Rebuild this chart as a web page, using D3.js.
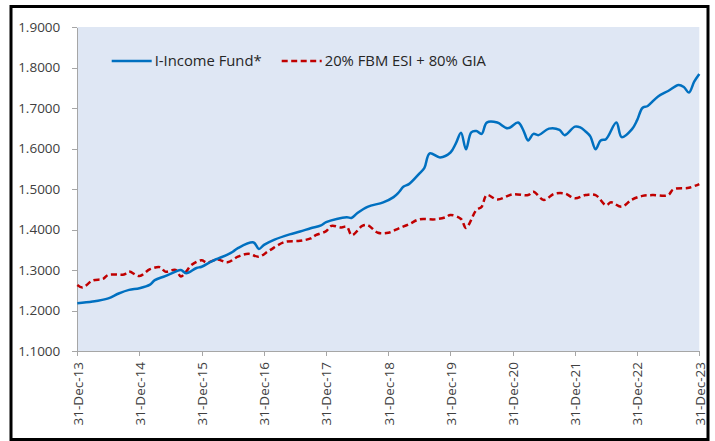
<!doctype html>
<html lang="en">
<head>
  <meta charset="utf-8">
  <title>I-Income Fund vs benchmark</title>
  <style>
body {
  margin: 0;
  background: #fff;
}
.axis {
  font: 13.5px "Open Sans", sans-serif;
}
.axis text {
  fill: #404040;
}
.axis path,
.axis line {
  fill: none;
  stroke: #a6a6a6;
  shape-rendering: crispEdges;
}
.legend text {
  font: 14.8px "Open Sans", sans-serif;
  fill: #262626;
}
  </style>
</head>
<body>
  <script src="https://d3js.org/d3.v7.min.js"></script>
  <script>
// values, month ends
var fundDates = ["2013-12","2014-03","2014-06","2014-08","2014-10","2014-12","2015-02","2015-03",
  "2015-05","2015-07","2015-08","2015-09","2015-11","2015-12","2016-02","2016-05","2016-06","2016-07",
  "2016-10","2016-11","2016-12","2017-02","2017-05","2017-07","2017-09","2017-11","2017-12","2018-02",
  "2018-04","2018-05","2018-06","2018-08","2018-11","2019-01","2019-02","2019-03","2019-04","2019-06",
  "2019-07","2019-08","2019-10","2019-12","2020-01","2020-02","2020-03","2020-04","2020-05","2020-06",
  "2020-07","2020-09","2020-11","2021-01","2021-02","2021-03","2021-04","2021-05","2021-07","2021-09",
  "2021-10","2021-12","2022-01","2022-02","2022-03","2022-04","2022-05","2022-06","2022-08","2022-09",
  "2022-11","2022-12","2023-01","2023-02","2023-04","2023-06","2023-08","2023-09","2023-10","2023-11",
  "2023-12"];
var fundValues = [1.218,1.222,1.230,1.242,1.251,1.255,1.264,1.275,
  1.285,1.296,1.300,1.292,1.305,1.308,1.322,1.338,1.345,1.354,
  1.368,1.352,1.362,1.375,1.388,1.395,1.403,1.410,1.418,1.426,
  1.430,1.429,1.440,1.456,1.467,1.480,1.492,1.506,1.512,1.538,
  1.552,1.588,1.578,1.590,1.612,1.639,1.598,1.640,1.643,1.636,
  1.664,1.664,1.650,1.664,1.645,1.620,1.636,1.633,1.649,1.646,
  1.633,1.654,1.652,1.642,1.630,1.598,1.620,1.623,1.664,1.628,
  1.648,1.670,1.700,1.705,1.728,1.742,1.757,1.752,1.738,1.765,
  1.784];

var benchDates = ["2013-12","2014-01","2014-03","2014-05","2014-06","2014-09","2014-10","2014-12",
  "2015-02","2015-04","2015-05","2015-07","2015-08","2015-09","2015-10","2015-12","2016-01","2016-03",
  "2016-05","2016-07","2016-09","2016-11","2017-01","2017-04","2017-07","2017-09","2017-10","2017-12",
  "2018-01","2018-03","2018-04","2018-05","2018-07","2018-08","2018-10","2018-12","2019-02","2019-04",
  "2019-06","2019-09","2019-11","2019-12","2020-02","2020-03","2020-05","2020-06","2020-07","2020-09",
  "2020-12","2021-03","2021-04","2021-06","2021-08","2021-10","2021-12","2022-02","2022-04","2022-06",
  "2022-07","2022-09","2022-11","2023-01","2023-03","2023-06","2023-07","2023-10","2023-12"];
var benchValues = [1.263,1.257,1.274,1.278,1.288,1.289,1.296,1.285,
  1.302,1.307,1.296,1.300,1.284,1.296,1.312,1.324,1.318,1.326,
  1.319,1.333,1.340,1.333,1.348,1.369,1.372,1.378,1.386,1.396,
  1.409,1.405,1.407,1.386,1.409,1.411,1.392,1.392,1.403,1.413,
  1.425,1.425,1.430,1.436,1.426,1.404,1.448,1.456,1.485,1.474,
  1.487,1.485,1.493,1.473,1.488,1.489,1.477,1.485,1.485,1.460,
  1.467,1.456,1.474,1.483,1.485,1.485,1.499,1.503,1.512];

var seriesNames = ["I-Income Fund*", "20% FBM ESI + 80% GIA"];
var yTicks = [1.1, 1.2, 1.3, 1.4, 1.5, 1.6, 1.7, 1.8, 1.9];
var xTickDates = ["2013-12","2014-12","2015-12","2016-12","2017-12","2018-12",
  "2019-12","2020-12","2021-12","2022-12","2023-12"];

var W = 715, H = 441;
var margin = {top: 27, right: 15.7, bottom: 90, left: 77.3},
    width = W - margin.left - margin.right,
    height = H - margin.top - margin.bottom;

var parse = d3.timeParse("%Y-%m");
var fmtTick = d3.timeFormat("%b-%y");

var fund = fundDates.map(function(d, i) { return {date: parse(d), value: fundValues[i]}; });
var bench = benchDates.map(function(d, i) { return {date: parse(d), value: benchValues[i]}; });

var x = d3.scaleTime()
    .domain([parse("2013-12"), parse("2023-12")])
    .range([0, width]);
var y = d3.scaleLinear()
    .domain([1.1, 1.9])
    .range([height, 0]);

var svg = d3.select("body").append("svg")
    .attr("width", W)
    .attr("height", H);

// outer chart frame
svg.append("rect")
    .attr("x", 11)
    .attr("y", 6.5)
    .attr("width", 697)
    .attr("height", 433)
    .attr("fill", "#fff")
    .attr("stroke", "#000")
    .attr("stroke-width", 3);

var g = svg.append("g")
    .attr("transform", "translate(" + margin.left + "," + margin.top + ")");

// plot area
g.append("rect")
    .attr("width", width)
    .attr("height", height)
    .attr("fill", "#dfe7f4");

var xAxis = d3.axisBottom(x)
    .tickValues(xTickDates.map(parse))
    .tickSize(5)
    .tickSizeOuter(0)
    .tickFormat(function(d) { return "31-" + fmtTick(d); });
var yAxis = d3.axisLeft(y)
    .tickValues(yTicks)
    .tickSize(5)
    .tickSizeOuter(0)
    .tickPadding(12)
    .tickFormat(d3.format(".4f"));

g.append("g")
    .attr("class", "x axis")
    .attr("transform", "translate(0," + height + ")")
    .call(xAxis)
  .selectAll("text")
    .attr("transform", "rotate(-90)")
    .attr("text-anchor", "end")
    .attr("x", -11)
    .attr("y", 0)
    .attr("dy", "0.35em");

g.append("g")
    .attr("class", "y axis")
    .call(yAxis);

var line = d3.line()
    .x(function(d) { return x(d.date); })
    .y(function(d) { return y(d.value); })
    .curve(d3.curveCatmullRom.alpha(0.5));

g.append("path")
    .datum(bench)
    .attr("fill", "none")
    .attr("stroke", "#c00000")
    .attr("stroke-width", 2.5)
    .attr("stroke-dasharray", "6,3.5")
    .attr("d", line);

g.append("path")
    .datum(fund)
    .attr("fill", "none")
    .attr("stroke", "#0070c0")
    .attr("stroke-width", 2.5)
    .attr("d", line);

// legend
var legend = svg.append("g").attr("class", "legend");
var legendX = [111.7, 281.7];
var legendY = 61;
seriesNames.forEach(function(name, i) {
  legend.append("line")
      .attr("x1", legendX[i])
      .attr("x2", legendX[i] + 40)
      .attr("y1", legendY)
      .attr("y2", legendY)
      .attr("stroke", i === 0 ? "#0070c0" : "#c00000")
      .attr("stroke-width", 2.5)
      .attr("stroke-dasharray", i === 0 ? null : "6,3.5");
  legend.append("text")
      .attr("x", legendX[i] + 43)
      .attr("y", legendY)
      .attr("dy", "0.35em")
      .text(name);
});
  </script>
</body>
</html>
